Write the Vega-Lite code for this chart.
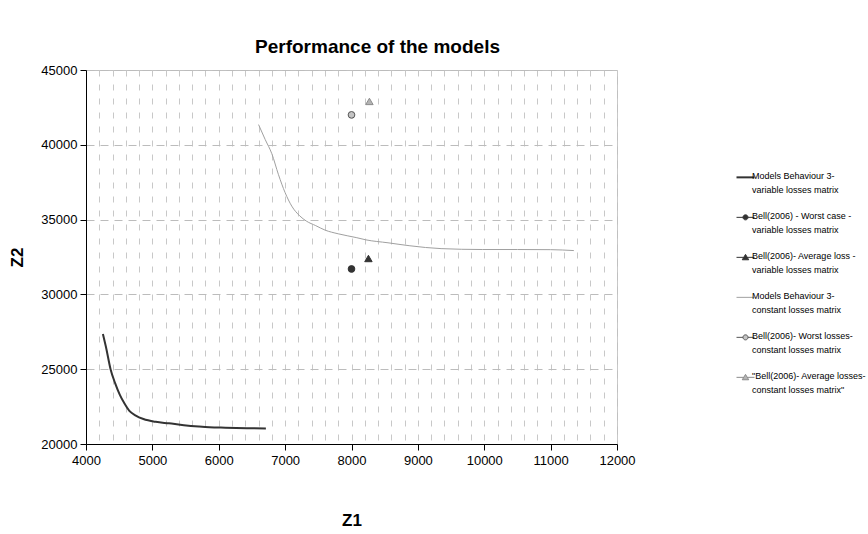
{
  "$schema": "https://vega.github.io/schema/vega-lite/v6.json",
  "width": 531,
  "height": 374,
  "autosize": "none",
  "padding": {"left": 86, "top": 70, "right": 251, "bottom": 90},
  "background": "white",
  "config": {
    "font": "Liberation Sans",
    "view": {"stroke": "#c0c0c0", "strokeWidth": 1}
  },
  "title": {"text": "Performance of the models", "fontSize": 19, "fontWeight": "bold", "font": "Liberation Sans", "anchor": "middle", "dx": 26, "offset": 7, "color": "black"},
  "data": {
    "values": [
      {"series": "Models Behaviour 3-|variable losses matrix", "Z1": 4255, "Z2": 27350},
      {"series": "Models Behaviour 3-|variable losses matrix", "Z1": 4300, "Z2": 26500},
      {"series": "Models Behaviour 3-|variable losses matrix", "Z1": 4370, "Z2": 25000},
      {"series": "Models Behaviour 3-|variable losses matrix", "Z1": 4440, "Z2": 24050},
      {"series": "Models Behaviour 3-|variable losses matrix", "Z1": 4510, "Z2": 23280},
      {"series": "Models Behaviour 3-|variable losses matrix", "Z1": 4580, "Z2": 22700},
      {"series": "Models Behaviour 3-|variable losses matrix", "Z1": 4650, "Z2": 22230},
      {"series": "Models Behaviour 3-|variable losses matrix", "Z1": 4750, "Z2": 21900},
      {"series": "Models Behaviour 3-|variable losses matrix", "Z1": 4865, "Z2": 21670},
      {"series": "Models Behaviour 3-|variable losses matrix", "Z1": 5050, "Z2": 21480},
      {"series": "Models Behaviour 3-|variable losses matrix", "Z1": 5250, "Z2": 21380},
      {"series": "Models Behaviour 3-|variable losses matrix", "Z1": 5475, "Z2": 21260},
      {"series": "Models Behaviour 3-|variable losses matrix", "Z1": 5700, "Z2": 21170},
      {"series": "Models Behaviour 3-|variable losses matrix", "Z1": 5860, "Z2": 21120},
      {"series": "Models Behaviour 3-|variable losses matrix", "Z1": 6100, "Z2": 21090},
      {"series": "Models Behaviour 3-|variable losses matrix", "Z1": 6425, "Z2": 21060},
      {"series": "Models Behaviour 3-|variable losses matrix", "Z1": 6710, "Z2": 21040},
      {"series": "Bell(2006) - Worst case -|variable losses matrix", "Z1": 8000, "Z2": 31700},
      {"series": "Bell(2006)- Average loss -|variable losses matrix", "Z1": 8255, "Z2": 32400},
      {"series": "Models Behaviour 3-|constant losses matrix", "Z1": 6600, "Z2": 41350},
      {"series": "Models Behaviour 3-|constant losses matrix", "Z1": 6700, "Z2": 40350},
      {"series": "Models Behaviour 3-|constant losses matrix", "Z1": 6800, "Z2": 39400},
      {"series": "Models Behaviour 3-|constant losses matrix", "Z1": 6900, "Z2": 38000},
      {"series": "Models Behaviour 3-|constant losses matrix", "Z1": 7000, "Z2": 36800},
      {"series": "Models Behaviour 3-|constant losses matrix", "Z1": 7100, "Z2": 35900},
      {"series": "Models Behaviour 3-|constant losses matrix", "Z1": 7220, "Z2": 35250},
      {"series": "Models Behaviour 3-|constant losses matrix", "Z1": 7320, "Z2": 34900},
      {"series": "Models Behaviour 3-|constant losses matrix", "Z1": 7460, "Z2": 34600},
      {"series": "Models Behaviour 3-|constant losses matrix", "Z1": 7600, "Z2": 34300},
      {"series": "Models Behaviour 3-|constant losses matrix", "Z1": 7800, "Z2": 34050},
      {"series": "Models Behaviour 3-|constant losses matrix", "Z1": 8070, "Z2": 33800},
      {"series": "Models Behaviour 3-|constant losses matrix", "Z1": 8213, "Z2": 33650},
      {"series": "Models Behaviour 3-|constant losses matrix", "Z1": 8550, "Z2": 33450},
      {"series": "Models Behaviour 3-|constant losses matrix", "Z1": 8880, "Z2": 33250},
      {"series": "Models Behaviour 3-|constant losses matrix", "Z1": 9350, "Z2": 33060},
      {"series": "Models Behaviour 3-|constant losses matrix", "Z1": 9970, "Z2": 33000},
      {"series": "Models Behaviour 3-|constant losses matrix", "Z1": 10500, "Z2": 33000},
      {"series": "Models Behaviour 3-|constant losses matrix", "Z1": 11000, "Z2": 32990},
      {"series": "Models Behaviour 3-|constant losses matrix", "Z1": 11350, "Z2": 32930},
      {"series": "Bell(2006)- Worst losses-|constant losses matrix", "Z1": 8000, "Z2": 42000},
      {"series": "\"Bell(2006)- Average losses-|constant losses matrix\"", "Z1": 8270, "Z2": 42900}
    ]
  },
  "encoding": {
    "x": {
      "field": "Z1", "type": "quantitative",
      "scale": {"domain": [4000, 12000], "nice": false, "zero": false},
      "axis": {
        "title": "Z1", "titleFontSize": 17, "titleFontWeight": "bold", "titleColor": "black", "titlePadding": 45,
        "values": [4000,4200,4400,4600,4800,5000,5200,5400,5600,5800,6000,6200,6400,6600,6800,7000,7200,7400,7600,7800,8000,8200,8400,8600,8800,9000,9200,9400,9600,9800,10000,10200,10400,10600,10800,11000,11200,11400,11600,11800,12000],
        "labelExpr": "datum.value % 1000 === 0 ? format(datum.value, 'd') : ''",
        "labelOverlap": false, "labelFlush": false,
        "labelFontSize": 13, "labelColor": "black", "labelPadding": 4,
        "tickColor": "black", "tickSize": 6,
        "tickOpacity": {"condition": {"test": "datum.value % 1000 !== 0", "value": 0}, "value": 1},
        "domainColor": "black", "domainWidth": 1,
        "grid": true, "gridColor": "#c8c8c8", "gridDash": [6, 8], "gridWidth": 1
      }
    },
    "y": {
      "field": "Z2", "type": "quantitative",
      "scale": {"domain": [20000, 45000], "nice": false, "zero": false},
      "axis": {
        "title": "Z2", "titleFontSize": 17, "titleFontWeight": "bold", "titleColor": "black", "titlePadding": 14,
        "values": [20000, 25000, 30000, 35000, 40000, 45000],
        "format": "d",
        "labelFontSize": 13, "labelColor": "black", "labelPadding": 3,
        "tickColor": "black", "tickSize": 6,
        "domainColor": "black", "domainWidth": 1,
        "grid": true, "gridColor": "#bcbcbc", "gridDash": [8, 6], "gridWidth": 1
      }
    }
  },
  "layer": [
    {
      "transform": [{"filter": "test(/Models/, datum.series)"}],
      "mark": {"type": "line", "interpolate": "monotone"},
      "encoding": {
        "order": {"field": "Z1", "type": "quantitative"},
        "stroke": {
          "field": "series", "type": "nominal",
          "scale": {
            "domain": ["Models Behaviour 3-|variable losses matrix", "Bell(2006) - Worst case -|variable losses matrix", "Bell(2006)- Average loss -|variable losses matrix", "Models Behaviour 3-|constant losses matrix", "Bell(2006)- Worst losses-|constant losses matrix", "\"Bell(2006)- Average losses-|constant losses matrix\""],
            "range": ["#333333", "#333333", "#333333", "#a0a0a0", "#555555", "#8c8c8c"]
          },
          "legend": {
            "orient": "none", "legendX": 655, "legendY": 97, "title": null,
            "labelExpr": "split(datum.label, '|')",
            "labelFont": "Liberation Sans", "labelFontSize": 9, "labelColor": "black",
            "labelLimit": 0, "labelBaseline": "top", "labelOffset": 2,
            "symbolSize": 324, "rowPadding": 12,
            "encode": {
              "labels": {"update": {"lineHeight": {"value": 14}}},
              "symbols": {
                "update": {
                  "shape": {"signal": "test(/Models/, datum.value) ? 'M-1,0.65H1' : test(/Worst/, datum.value) ? 'M-1,0.65H-0.28M0.28,0.65H1M0.28,0.65A0.28,0.28 0 1,1 -0.28,0.65A0.28,0.28 0 1,1 0.28,0.65Z' : 'M-1,0.65H-0.2M0.2,0.65H1M-0.36,0.92L0,0.32L0.36,0.92Z'"},
                  "fill": {"signal": "test(/Models/, datum.value) ? 'transparent' : test(/variable/, datum.value) ? '#333333' : test(/Worst/, datum.value) ? '#c4c4c4' : '#b4b4b4'"},
                  "stroke": {"signal": "test(/variable/, datum.value) ? '#333333' : test(/Models/, datum.value) ? '#a0a0a0' : test(/Worst/, datum.value) ? '#555555' : '#8c8c8c'"},
                  "strokeWidth": {"signal": "test(/Models/, datum.value) && test(/variable/, datum.value) ? 2 : 1"},
                  "opacity": {"value": 1}
                }
              }
            }
          }
        },
        "strokeWidth": {"condition": {"test": "test(/variable/, datum.series)", "value": 2}, "value": 1}
      }
    },
    {
      "transform": [{"filter": "test(/Worst/, datum.series)"}],
      "mark": {"type": "point", "shape": "circle", "filled": true, "opacity": 1, "strokeWidth": 1, "size": 45},
      "encoding": {
        "fill": {"condition": {"test": "test(/variable/, datum.series)", "value": "#333333"}, "value": "#c4c4c4"},
        "stroke": {"condition": {"test": "test(/variable/, datum.series)", "value": "#333333"}, "value": "#555555"}
      }
    },
    {
      "transform": [{"filter": "test(/Average/, datum.series)"}],
      "mark": {"type": "point", "shape": "triangle-up", "filled": true, "opacity": 1, "strokeWidth": 1, "size": 55},
      "encoding": {
        "fill": {"condition": {"test": "test(/variable/, datum.series)", "value": "#333333"}, "value": "#b4b4b4"},
        "stroke": {"condition": {"test": "test(/variable/, datum.series)", "value": "#333333"}, "value": "#8c8c8c"}
      }
    }
  ]
}
